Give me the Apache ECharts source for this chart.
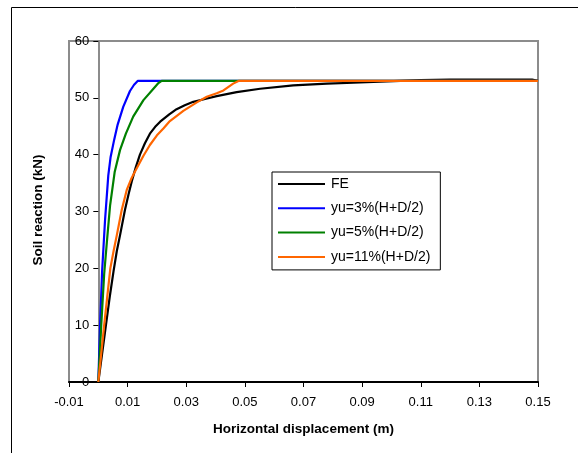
<!DOCTYPE html>
<html>
<head>
<meta charset="utf-8">
<script src="https://cdn.jsdelivr.net/npm/echarts@6/dist/echarts.min.js"></script>
<style>html,body{margin:0;padding:0;background:#fff}#c{width:578px;height:453px}</style>
</head>
<body>
<div id="c"></div>
<script>
// Data (x: horizontal displacement m, y: soil reaction kN)
var seriesNames = ['FE', 'yu=3%(H+D/2)', 'yu=5%(H+D/2)', 'yu=11%(H+D/2)'];
var feData = [[0,0],[0.0013,5],[0.0026,10],[0.0039,15],[0.0052,19.5],[0.0063,23],[0.0074,25.8],[0.0091,30.3],[0.0103,33],[0.0114,35.3],[0.0128,37.8],[0.0142,40],[0.0159,42],[0.0176,43.7],[0.0194,44.9],[0.0211,45.8],[0.0242,47.1],[0.0267,48],[0.0295,48.7],[0.0324,49.3],[0.0364,49.8],[0.0404,50.3],[0.0472,51],[0.0552,51.6],[0.0665,52.2],[0.078,52.5],[0.0893,52.7],[0.0984,52.9],[0.11,53.1],[0.12,53.2],[0.14,53.2],[0.148,53.2],[0.15,53]];
var yu3Data = [[0,0],[0.0006,10],[0.0013,19.5],[0.0023,28.5],[0.0034,36.3],[0.0042,39.6],[0.0054,42.6],[0.0066,45.3],[0.0085,48.4],[0.0108,51.2],[0.0122,52.3],[0.0135,53],[0.15,53]];
var yu5Data = [[0,0],[0.001,10],[0.002,19],[0.0029,24.5],[0.004,31],[0.0056,37],[0.0074,40.8],[0.0094,43.7],[0.0119,46.7],[0.0154,49.6],[0.0188,51.6],[0.0205,52.6],[0.0216,53],[0.15,53]];
var yu11Data = [[0,0],[0.002,10],[0.0041,20],[0.0052,23],[0.0063,25.8],[0.008,30.3],[0.0097,33.8],[0.0112,35.7],[0.0127,37.2],[0.0154,39.8],[0.0176,41.7],[0.02,43.4],[0.0222,44.6],[0.0242,45.8],[0.029,47.7],[0.0336,49.2],[0.037,50.2],[0.0404,50.8],[0.0427,51.3],[0.046,52.5],[0.048,53],[0.15,53]];
var xTicks = {min: -0.01, max: 0.15, interval: 0.02};
var yTicks = {min: 0, max: 60, interval: 10};
var xTitle = 'Horizontal displacement (m)';
var yTitle = 'Soil reaction (kN)';
var colors = ['#000000', '#0000FF', '#008000', '#FF6600'];

var chart = echarts.init(document.getElementById('c'), null, {renderer: 'canvas'});
var font = 'Arial, "Liberation Sans", sans-serif';
var datasets = [feData, yu3Data, yu5Data, yu11Data];
var G = {left: 69, right: 40, top: 41, bottom: 71};
var zeroX = G.left + (0 - xTicks.min) / (xTicks.max - xTicks.min) * (578 - G.left - G.right);
chart.setOption({
  animation: false,
  textStyle: {fontFamily: font},
  graphic: [{
    type: 'rect', z: -10, silent: true,
    shape: {x: 11.5, y: 7.5, width: 700, height: 600},
    style: {fill: 'none', stroke: '#000', lineWidth: 1}
  }, {
    type: 'text', x: 38, y: 210, rotation: Math.PI / 2, silent: true,
    style: {text: yTitle, font: 'bold 13.5px ' + font, fill: '#000', textAlign: 'center', textVerticalAlign: 'middle'}
  }],
  grid: [
    {left: G.left, right: G.right, top: G.top, bottom: G.bottom, show: true, borderColor: '#8c8c8c', borderWidth: 2, backgroundColor: 'transparent', containLabel: false, outerBoundsMode: 'none'},
    {left: zeroX, right: G.right, top: G.top, bottom: G.bottom, show: false, containLabel: false, outerBoundsMode: 'none'}
  ],
  legend: {
    data: seriesNames, orient: 'vertical', left: 272, top: 172,
    padding: [5, 10, 6, 5], itemGap: 10.3, itemWidth: 47, itemHeight: 14,
    borderColor: '#000', borderWidth: 1, backgroundColor: '#fff',
    selectedMode: false,
    itemStyle: {opacity: 0},
    textStyle: {fontFamily: font, fontSize: 14, color: '#000', padding: [0,0,0,1]}
  },
  xAxis: [{
    type: 'value', gridIndex: 0, min: xTicks.min, max: xTicks.max, interval: xTicks.interval,
    name: xTitle, nameLocation: 'middle', nameGap: 40,
    nameTextStyle: {fontFamily: font, fontSize: 13.5, fontWeight: 'bold', color: '#000'},
    axisLine: {onZero: false, lineStyle: {color: '#000', width: 2}},
    axisTick: {show: true, length: 5, lineStyle: {color: '#000', width: 1}},
    axisLabel: {fontFamily: font, fontSize: 13, color: '#000', margin: 14, formatter: function(v){return v.toFixed(2);}},
    splitLine: {show: false}
  }, {
    type: 'value', gridIndex: 1, min: 0, max: xTicks.max, show: false
  }],
  yAxis: [{
    type: 'value', gridIndex: 0, min: yTicks.min, max: yTicks.max, interval: yTicks.interval,
    axisLine: {show: false}, axisTick: {show: false}, axisLabel: {show: false},
    splitLine: {show: false}
  }, {
    type: 'value', gridIndex: 1, min: yTicks.min, max: yTicks.max, interval: yTicks.interval,
    axisLine: {show: true, onZero: false, lineStyle: {color: '#8c8c8c', width: 2}},
    axisTick: {show: true, length: 5, lineStyle: {color: '#000', width: 1}},
    axisLabel: {fontFamily: font, fontSize: 13, color: '#000', margin: 9},
    splitLine: {show: false}
  }],
  series: seriesNames.map(function(n, i){
    return {
      name: n, type: 'line', xAxisIndex: 0, yAxisIndex: 0, data: datasets[i], symbol: 'none', smooth: false,
      color: colors[i],
      lineStyle: {color: colors[i], width: 2.2},
      z: 3 + i
    };
  })
});
</script>
</body>
</html>
